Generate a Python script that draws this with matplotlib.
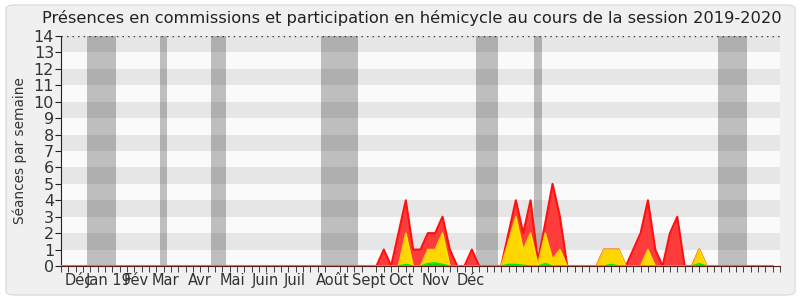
import matplotlib
matplotlib.use("Agg")
import matplotlib.pyplot as plt
from matplotlib.patches import FancyBboxPatch

# ---- data (weekly index 0..97) ----
weeks = list(range(98))
presences = [0]*43 + [0, 1, 0, 2, 4, 1, 1, 2, 2, 3, 1, 0, 0, 1, 0, 0, 0, 0,
                      2, 4, 2, 4, 0.3, 2.6, 5, 3, 0, 0, 0, 0, 0, 1, 1, 1, 0,
                      1, 2, 4, 1, 0, 2, 3, 0, 0, 1] + [0]*10
hemicycle = [0]*43 + [0, 0, 0, 0, 2, 0, 0, 1, 1, 2, 0, 0, 0, 0, 0, 0, 0, 0,
                      1.5, 3, 1, 2, 0.1, 2, 0.4, 1, 0, 0, 0, 0, 0, 1, 1, 1, 0,
                      0, 0, 1, 0, 0, 0, 0, 0, 0, 1] + [0]*10
interventions = [0]*43 + [0, 0, 0, 0, 0.1, 0, 0, 0.15, 0.2, 0.1, 0, 0, 0, 0, 0, 0, 0, 0,
                          0.1, 0.1, 0.05, 0, 0, 0.15, 0, 0, 0, 0, 0, 0, 0, 0, 0.1, 0, 0,
                          0, 0, 0, 0, 0, 0, 0, 0, 0, 0.15] + [0]*10

vacances = [(3.5, 7.5), (13.5, 14.5), (20.5, 22.5), (35.5, 40.5),
            (56.5, 59.5), (64.5, 65.5), (89.5, 93.5)]
mois_pos = [2.46, 6.55, 10.2, 14.3, 18.9, 23.3, 27.9, 31.9, 37.0, 42.0, 46.3, 51.1, 55.9]
mois_lab = ["Déc", "Jan 19", "Fév", "Mar", "Avr", "Mai", "Juin", "Juil", "Août",
            "Sept", "Oct", "Nov", "Déc"]
titre = "Présences en commissions et participation en hémicycle au cours de la session 2019-2020"

# ---- figure ----
fig = plt.figure(figsize=(8, 3), dpi=100, facecolor="white")
frame = FancyBboxPatch((6/800, 5/300), 789/800, 290/300,
                       boxstyle="round,pad=0,rounding_size=0.012",
                       transform=fig.transFigure, facecolor="#f0f0f0",
                       edgecolor="#dddddd", linewidth=1.0, zorder=-10)
fig.patches.append(frame)

ax = fig.add_axes([61/800, 1-266/300, 719/800, 230/300])
ax.set_zorder(5)
ax.set_facecolor("#fafafa")
ax.set_xlim(0, 98)
ax.set_ylim(0, 14)

for a, b in vacances:
    ax.axvspan(a, b, color="#bebebe", lw=0, zorder=1)
for y0 in range(1, 14, 2):
    ax.axhspan(y0, y0+1, color="black", alpha=0.08, lw=0, zorder=2)
ax.axhline(14, color="#333333", lw=1, ls=(0, (1, 3)), zorder=3)

ax.fill_between(weeks, presences, color="#ff3c3c", lw=0, zorder=4)
ax.plot(weeks, presences, color="#ff1010", lw=1.5, zorder=5)
ax.fill_between(weeks, hemicycle, color="#ffd700", lw=0, zorder=6)
ax.plot(weeks, hemicycle, color="#ffee00", lw=1.2, alpha=0.8, zorder=7)
ax.fill_between(weeks, interventions, color="#00dd00", lw=0, zorder=8)
ax.plot(weeks, interventions, color="#00ee00", lw=1.0, zorder=9)

for s in ["top", "right"]:
    ax.spines[s].set_visible(False)
ax.spines["left"].set_color("#222222")
ax.spines["bottom"].set_color("#5a1a1a")
ax.spines["bottom"].set_zorder(10)

ax.set_yticks(range(0, 15))
ax.tick_params(axis="y", direction="out", length=4, color="#222222",
               labelsize=11.5, labelcolor="#333333", pad=1)
ax.set_xticks(mois_pos)
ax.set_xticklabels(mois_lab)
ax.set_xticks(weeks + [98], minor=True)
ax.tick_params(axis="x", which="major", length=0, labelsize=10.5,
               labelcolor="#333333", pad=5)
ax.tick_params(axis="x", which="minor", direction="out", length=4, color="#222222")

ax.set_ylabel("Séances par semaine", fontsize=9.8, color="#333333", labelpad=5)
fig.text(0.515, 0.94, titre, ha="center", va="center", fontsize=11.7, color="#222222")

fig.savefig("out.png", dpi=100, facecolor="white")
